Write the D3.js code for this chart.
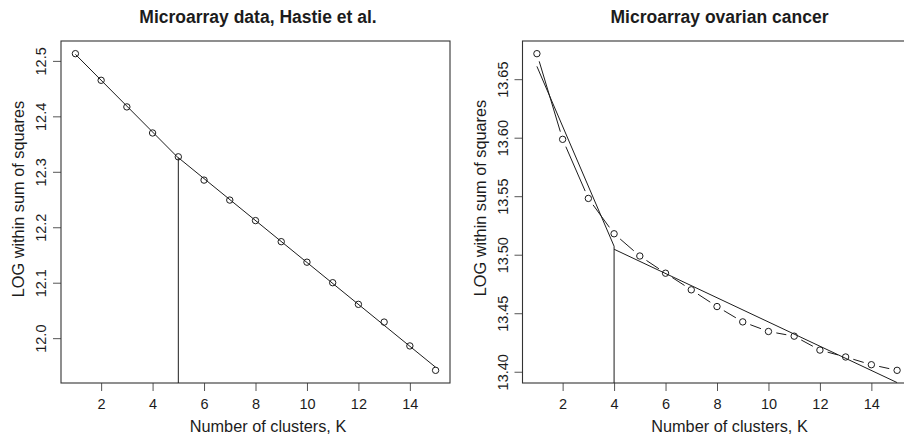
<!DOCTYPE html>
<html>
<head>
<meta charset="utf-8">
<script src="https://cdn.jsdelivr.net/npm/d3@7"></script>
<style>
  html, body { margin: 0; padding: 0; background: #fff; }
  svg { display: block; font-family: "Liberation Sans", Arial, Helvetica, sans-serif; }
</style>
</head>
<body>
<svg id="chart" width="904" height="437"></svg>
<script>
// Number of clusters K (shared by both panels)
const clustersK = [1, 2, 3, 4, 5, 6, 7, 8, 9, 10, 11, 12, 13, 14, 15];

// Log within-cluster sum of squares, Hastie et al. microarray data
const hastieLogWSS = [12.513, 12.465, 12.417, 12.370, 12.327, 12.285, 12.249,
                      12.212, 12.174, 12.137, 12.100, 12.061, 12.029, 11.986, 11.942];

// Log within-cluster sum of squares, ovarian cancer microarray data
const ovarianLogWSS = [13.6718, 13.5986, 13.5481, 13.5179, 13.4989, 13.4842, 13.4700,
                       13.4557, 13.4426, 13.4344, 13.4304, 13.4185, 13.4126, 13.4060, 13.4012];

// Tick values and their printed labels
const xTicks = [2, 4, 6, 8, 10, 12, 14];
const hastieYTicks = [12.0, 12.1, 12.2, 12.3, 12.4, 12.5];
const hastieYLabels = ["12.0", "12.1", "12.2", "12.3", "12.4", "12.5"];
const ovarianYTicks = [13.40, 13.45, 13.50, 13.55, 13.60, 13.65];
const ovarianYLabels = ["13.40", "13.45", "13.50", "13.55", "13.60", "13.65"];

// Chosen elbow (number of clusters) in each panel
const hastieElbow = 5;
const ovarianElbow = 4;

const titles = ["Microarray data, Hastie et al.", "Microarray ovarian cancer"];
const xTitle = "Number of clusters, K";
const yTitle = "LOG within sum of squares";

const svg = d3.select("#chart");
const ink = "#1c1c1c";

// Ordinary least squares fit over the points with lo <= K <= hi
function fitLine(xs, ys, lo, hi) {
  const pts = xs.map((x, i) => [x, ys[i]]).filter(p => p[0] >= lo && p[0] <= hi);
  const mx = d3.mean(pts, p => p[0]);
  const my = d3.mean(pts, p => p[1]);
  const sxy = d3.sum(pts, p => (p[0] - mx) * (p[1] - my));
  const sxx = d3.sum(pts, p => (p[0] - mx) * (p[0] - mx));
  const b = sxy / sxx;
  const a = my - b * mx;
  return x => a + b * x;
}

// Axis range padded by 4% on each side
function padded(values) {
  const [lo, hi] = d3.extent(values);
  const d = (hi - lo) * 0.04;
  return [lo - d, hi + d];
}

function drawPanel(cfg) {
  const { left, right, top, bottom } = cfg.box;
  const g = svg.append("g");

  const x = d3.scaleLinear().domain(padded(clustersK)).range([left, right]);
  const y = d3.scaleLinear().domain(padded(cfg.values)).range([bottom, top]);

  const clipId = "clip" + cfg.id;
  svg.append("clipPath").attr("id", clipId)
    .append("rect").attr("x", left).attr("y", top)
    .attr("width", right - left).attr("height", bottom - top);

  // Title
  g.append("text")
    .attr("x", cfg.titleX).attr("y", 23)
    .attr("text-anchor", "middle")
    .attr("font-size", 17.5).attr("font-weight", "bold")
    .attr("fill", ink)
    .text(cfg.title);

  // X axis
  const xAxis = d3.axisBottom(x).tickValues(xTicks).tickSize(8).tickPadding(8)
    .tickFormat(d3.format("d"));
  const gx = g.append("g").attr("transform", `translate(0,${bottom})`).call(xAxis);
  gx.select(".domain").remove();
  gx.selectAll("line").attr("stroke", "#555");
  gx.selectAll("text").attr("font-size", 14.5).attr("fill", ink)
    .attr("font-family", "Liberation Sans, Arial, sans-serif");

  // Y axis with labels rotated parallel to the axis
  const yAxis = d3.axisLeft(y).tickValues(cfg.yTicks).tickSize(8)
    .tickFormat((d, i) => cfg.yLabels[i]);
  const gy = g.append("g").attr("transform", `translate(${left},0)`).call(yAxis);
  gy.select(".domain").remove();
  gy.selectAll("line").attr("stroke", "#555");
  gy.selectAll("text")
    .attr("font-size", 14.5).attr("fill", ink)
    .attr("font-family", "Liberation Sans, Arial, sans-serif")
    .attr("x", null).attr("dy", null)
    .attr("text-anchor", "middle")
    .attr("transform", "translate(-15,0) rotate(-90)");

  // Axis titles
  g.append("text")
    .attr("x", cfg.xTitleX).attr("y", 432)
    .attr("text-anchor", "middle")
    .attr("font-size", 16.3).attr("fill", ink)
    .text(xTitle);
  g.append("text")
    .attr("transform", `translate(${left - 37},${cfg.yTitleY}) rotate(-90)`)
    .attr("text-anchor", "middle")
    .attr("font-size", 16.3).attr("fill", ink)
    .text(yTitle);

  // Plot box
  g.append("rect")
    .attr("x", left).attr("y", top)
    .attr("width", right - left).attr("height", bottom - top)
    .attr("fill", "none").attr("stroke", "#333").attr("stroke-width", 1.1);

  const plot = g.append("g").attr("clip-path", `url(#${clipId})`);

  // Points joined by segments that stop short of each point
  if (cfg.joined) {
    const gap = 8;
    const segs = d3.pairs(clustersK.map((k, i) => [x(k), y(cfg.values[i])]));
    plot.selectAll(".seg").data(segs).join("line")
      .attr("class", "seg")
      .each(function ([p, q]) {
        const dx = q[0] - p[0], dy = q[1] - p[1];
        const len = Math.hypot(dx, dy);
        const ux = dx / len, uy = dy / len;
        d3.select(this)
          .attr("x1", p[0] + ux * gap).attr("y1", p[1] + uy * gap)
          .attr("x2", q[0] - ux * gap).attr("y2", q[1] - uy * gap);
      })
      .attr("stroke", ink).attr("stroke-width", 1);
  }

  // Two least-squares lines meeting at the elbow
  const k = cfg.elbow;
  const kMin = d3.min(clustersK), kMax = d3.max(clustersK);
  const f1 = fitLine(clustersK, cfg.values, kMin, k);
  const f2 = fitLine(clustersK, cfg.values, k, kMax);
  const line = d3.line().x(d => x(d[0])).y(d => y(d[1]));
  plot.append("path")
    .attr("d", line([[kMin, f1(kMin)], [k, f1(k)]]))
    .attr("fill", "none").attr("stroke", ink).attr("stroke-width", 1);
  plot.append("path")
    .attr("d", line([[k, f2(k)], [kMax, f2(kMax)]]))
    .attr("fill", "none").attr("stroke", ink).attr("stroke-width", 1);

  // Vertical marker at the elbow
  plot.append("line")
    .attr("x1", x(k)).attr("x2", x(k))
    .attr("y1", bottom).attr("y2", y(f1(k)))
    .attr("stroke", ink).attr("stroke-width", 1);

  // Open circles
  plot.selectAll("circle").data(clustersK).join("circle")
    .attr("cx", d => x(d))
    .attr("cy", (d, i) => y(cfg.values[i]))
    .attr("r", 3.2)
    .attr("fill", "none").attr("stroke", ink).attr("stroke-width", 1);
}

drawPanel({
  id: "A",
  box: { left: 61, right: 450, top: 41, bottom: 383 },
  values: hastieLogWSS,
  yTicks: hastieYTicks, yLabels: hastieYLabels,
  elbow: hastieElbow, joined: false,
  title: titles[0], titleX: 258, xTitleX: 268, yTitleY: 199
});

drawPanel({
  id: "B",
  box: { left: 522.5, right: 911.5, top: 41, bottom: 383 },
  values: ovarianLogWSS,
  yTicks: ovarianYTicks, yLabels: ovarianYLabels,
  elbow: ovarianElbow, joined: true,
  title: titles[1], titleX: 719.5, xTitleX: 729.5, yTitleY: 198
});
</script>
</body>
</html>
